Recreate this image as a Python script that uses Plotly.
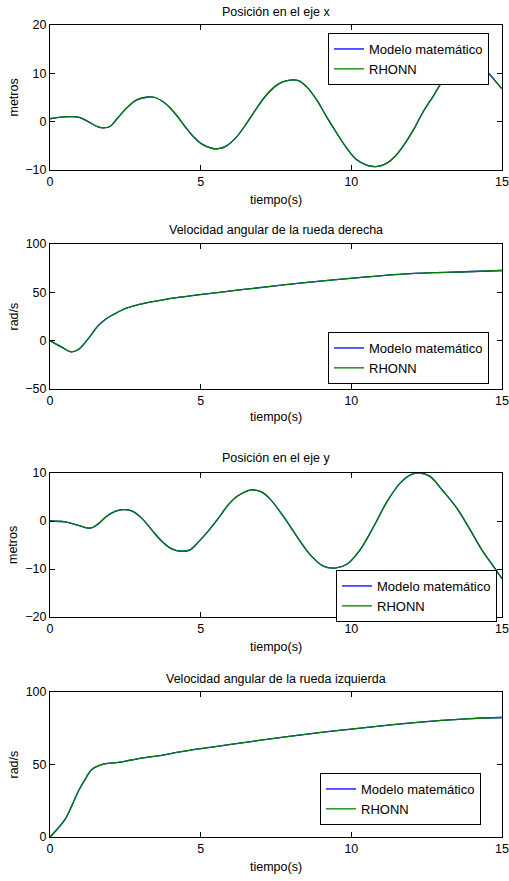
import plotly.graph_objects as go

W, H = 509, 881

# ---- data ----
t_x = [0, 0.39, 0.94, 1.27, 1.6, 1.77, 1.99, 2.21, 2.54, 2.88, 3.26, 3.48, 3.82, 4.15, 4.48, 4.76, 5.03,
       5.37, 5.59, 5.86, 6.2, 6.53, 6.86, 7.14, 7.47, 7.7, 7.97, 8.24, 8.52, 8.85, 9.18, 9.52, 9.85,
       10.18, 10.51, 10.82, 11.12, 11.45, 11.78, 12.06, 12.39, 12.72, 13.05, 13.39, 13.72, 13.92, 14.21,
       14.55, 14.94, 15.0]
pos_x = [0.6, 0.96, 0.96, 0.0, -1.1, -1.3, -1.0, 0.5, 2.8, 4.5, 5.1, 5.0, 3.8, 1.7, -1.0, -3.1, -4.6,
         -5.5, -5.6, -5.0, -3.1, -0.3, 2.8, 5.2, 7.3, 8.2, 8.6, 8.5, 7.2, 4.5, 1.0, -2.4, -5.5,
         -7.9, -9.0, -9.3, -8.8, -7.2, -4.5, -1.7, 2.1, 5.3, 8.6, 11.0, 12.2, 12.4, 11.7,
         10.0, 7.2, 6.8]

t_wr = [0, 0.39, 0.7, 0.94, 1.33, 1.6, 1.88, 2.16, 2.49, 2.93, 3.37, 3.93, 4.48, 4.97, 6.08, 7.19, 8.29,
        9.4, 10.5, 11.6, 12.7, 13.8, 15.0]
vel_der = [0, -6.7, -11.5, -9.1, 4.5, 15.6, 23.0, 28.0, 33.1, 37.2, 40.2, 43.3, 45.6, 47.6, 51.7, 55.7, 59.5,
           62.8, 65.9, 68.6, 70.3, 71.3, 72.6]

t_y = [0, 0.5, 0.94, 1.33, 1.6, 1.88, 2.16, 2.43, 2.71, 3.04, 3.37, 3.71, 4.04, 4.37, 4.65, 4.92, 5.25,
       5.59, 5.92, 6.25, 6.69, 7.03, 7.3, 7.74, 8.19, 8.63, 9.07, 9.46, 9.85, 10.29, 10.73, 11.18, 11.62,
       12.0, 12.28, 12.61, 13.05, 13.5, 13.94, 14.33, 14.71, 15.0]
pos_y = [0, -0.2, -0.9, -1.5, -0.6, 1.0, 2.0, 2.35, 2.1, 0.6, -1.8, -4.2, -5.8, -6.3, -6.0, -4.4, -2.1,
         0.6, 3.4, 5.3, 6.5, 6.0, 4.6, 1.0, -3.2, -7.0, -9.4, -9.8, -9.0, -6.0, -1.3, 4.0, 7.9,
         9.7, 10.0, 9.3, 6.2, 2.7, -1.8, -6.0, -9.4, -12.0]

t_wl = [0, 0.28, 0.5, 0.72, 0.94, 1.16, 1.38, 1.66, 1.94, 2.27, 2.71, 3.15, 3.71, 4.26, 4.76, 6.0, 7.0,
        8.0, 9.0, 10.0, 11.0, 12.0, 13.0, 14.0, 15.0]
vel_izq = [0, 6.4, 12.1, 21.3, 31.6, 39.6, 46.4, 49.5, 50.8, 51.5, 53.1, 54.7, 56.3, 58.6, 60.2, 63.9, 66.8,
           69.6, 72.1, 74.4, 76.6, 78.7, 80.4, 81.7, 82.4]

titles = ["Posición en el eje x", "Velocidad angular de la rueda derecha",
          "Posición en el eje y", "Velocidad angular de la rueda izquierda"]
ylabels = ["metros", "rad/s", "metros", "rad/s"]
xlabel = "tiempo(s)"
series_names = ["Modelo matemático", "RHONN"]
yranges = [[-10, 20], [-50, 100], [-20, 10], [0, 100]]
ytickvals = [[-10, 0, 10, 20], [-50, 0, 50, 100], [-20, -10, 0, 10], [0, 50, 100]]
xtickvals = [0, 5, 10, 15]

datasets = [(t_x, pos_x), (t_wr, vel_der), (t_y, pos_y), (t_wl, vel_izq)]

# ---- layout geometry (pixels) ----
x_left, x_right = 50, 502
tops = [25, 244, 473, 692]
bottoms = [170, 389, 617, 837]
title_y = [12, 230, 458, 679]
xlabel_y = [200, 417, 647, 867]
legend_pos = [(489, 33), (489, 332), (497, 570), (481, 773)]

FONT = "Liberation Sans, Arial, sans-serif"
fig = go.Figure()
layout = dict(width=W, height=H, margin=dict(l=0, r=0, t=0, b=0),
              paper_bgcolor="white", plot_bgcolor="white",
              font=dict(family=FONT, size=12, color="black"), annotations=[])

for i, (tt, vv) in enumerate(datasets):
    n = "" if i == 0 else str(i + 1)
    lg = "legend" + n
    fig.add_trace(go.Scatter(x=tt, y=vv, mode="lines", name=series_names[0],
                             line=dict(color="#0000ff", width=1.3, shape="spline", smoothing=1.0),
                             xaxis="x" + n, yaxis="y" + n, legend=lg))
    fig.add_trace(go.Scatter(x=tt, y=vv, mode="lines", name=series_names[1],
                             line=dict(color="#008000", width=1.3, shape="spline", smoothing=1.0),
                             xaxis="x" + n, yaxis="y" + n, legend=lg))
    common = dict(showline=True, linecolor="black", linewidth=1, mirror="ticks",
                  ticks="inside", ticklen=5, tickcolor="black", showgrid=False, zeroline=False,
                  tickfont=dict(size=12.5), automargin=False)
    layout["xaxis" + n] = dict(domain=[x_left / W, x_right / W], range=[0, 15], tickvals=xtickvals,
                               anchor="y" + n, **common)
    layout["yaxis" + n] = dict(domain=[1 - bottoms[i] / H, 1 - tops[i] / H], range=yranges[i],
                               tickvals=ytickvals[i], anchor="x" + n, **common)
    lx, ly = legend_pos[i]
    layout[lg] = dict(x=lx / W, y=1 - ly / H, xanchor="right", yanchor="top",
                      bgcolor="white", bordercolor="black", borderwidth=1,
                      font=dict(size=13), tracegroupgap=0, itemwidth=30)
    cx = (x_left + x_right) / 2 / W
    layout["annotations"] += [
        dict(text=titles[i], x=cx, y=1 - title_y[i] / H, xref="paper", yref="paper",
             showarrow=False, font=dict(size=12.5), xanchor="center", yanchor="middle"),
        dict(text=xlabel, x=cx, y=1 - xlabel_y[i] / H, xref="paper", yref="paper",
             showarrow=False, font=dict(size=12.5), xanchor="center", yanchor="middle"),
        dict(text=ylabels[i], x=13 / W, y=1 - (tops[i] + bottoms[i]) / 2 / H, xref="paper", yref="paper",
             showarrow=False, font=dict(size=12.5), textangle=-90, xanchor="center", yanchor="middle"),
    ]

fig.update_layout(**layout)
fig.write_html("out.html", config={"displayModeBar": False},
               post_script="document.body.style.margin='0px';document.body.style.overflow='hidden';")
